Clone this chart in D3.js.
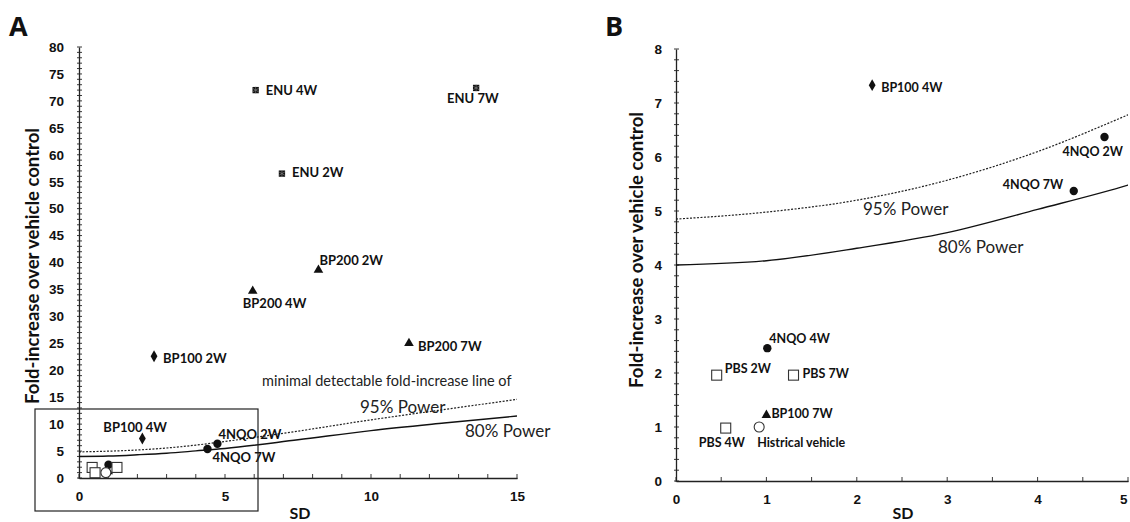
<!DOCTYPE html>
<html>
<head>
<meta charset="utf-8">
<script src="https://cdn.jsdelivr.net/npm/d3@7"></script>
<style>
  body { margin: 0; background: #fff; }
  svg { font-family: Lato, "Open Sans", sans-serif; }
  .tick text { font-weight: bold; font-size: 13.5px; fill: #111; }
  .lbl { font-weight: bold; fill: #111; }
  .note { font-size: 14.5px; fill: #222; }
  .pow { font-size: 17px; fill: #222; }
</style>
</head>
<body>
<svg width="1130" height="522"></svg>
<script>
// Points: name, SD, fold-increase over vehicle control, marker
var names  = ["ENU 4W", "ENU 7W", "ENU 2W", "BP200 2W", "BP200 4W", "BP200 7W",
              "BP100 2W", "BP100 4W", "BP100 7W", "4NQO 2W", "4NQO 7W", "4NQO 4W",
              "PBS 2W", "PBS 7W", "PBS 4W", "Histrical vehicle"];
var sdVals   = [6.05, 13.6, 6.95, 8.2, 5.95, 11.3, 2.57, 2.17, 1.0, 4.74, 4.4, 1.01, 0.45, 1.3, 0.55, 0.92];
var foldVals = [72.0, 72.4, 56.5, 38.6, 34.7, 25.0, 22.6, 7.33, 1.22, 6.37, 5.37, 2.46, 1.96, 1.96, 0.98, 1.0];
var markers  = ["enu", "enu", "enu", "tri", "tri", "tri", "dia", "dia", "tri", "dot", "dot", "dot",
                "sq", "sq", "sq", "ring"];

// minimal detectable fold-increase curves
var sdGrid  = [0, 1, 2, 3, 4, 5, 7.5, 10, 12.5, 15];
var power95 = [4.85, 4.98, 5.2, 5.57, 6.1, 6.78, 8.7, 10.8, 12.7, 14.6];
var power80 = [4.0, 4.08, 4.31, 4.6, 5.03, 5.48, 7.1, 8.8, 10.2, 11.5];

var xTicksA = [0, 5, 10, 15];
var yTicksA = d3.range(0, 81, 5);
var xTicksB = [0, 1, 2, 3, 4, 5];
var yTicksB = [0, 1, 2, 3, 4, 5, 6, 7, 8];

// label placement, dx/dy from the marker
var labelsA = {
  "ENU 4W": [10, 0], "ENU 7W": [-29, 11], "ENU 2W": [10, -1], "BP200 2W": [1, -10],
  "BP200 4W": [-10, 12], "BP200 7W": [9, 3], "BP100 2W": [9, 2], "BP100 4W": [-39, -11],
  "4NQO 2W": [1, -9], "4NQO 7W": [5, 8]
};
var labelsB = {
  "BP100 4W": [9, 2], "4NQO 2W": [-42, 15], "4NQO 7W": [-71, -6], "4NQO 4W": [2, -10],
  "PBS 2W": [8, -7], "PBS 7W": [9, -2], "BP100 7W": [5, -1], "PBS 4W": [-27, 15],
  "Histrical vehicle": [-2, 16]
};

var svg = d3.select("svg");
var points = names.map(function(n, i) {
  return { name: n, sd: sdVals[i], fold: foldVals[i], m: markers[i] };
});

function drawMarker(g, d) {
  if (d.m == "enu") {
    g.append("path").attr("d", d3.symbol(d3.symbolSquare, 40)()).attr("fill", "#111");
    g.append("path").attr("d", d3.symbol(d3.symbolAsterisk, 34)()).attr("stroke", "#888").attr("stroke-width", 0.6).attr("fill", "none");
  } else if (d.m == "tri") {
    g.append("path").attr("d", d3.symbol(d3.symbolTriangle, 40)()).attr("fill", "#111");
  } else if (d.m == "dia") {
    g.append("path").attr("d", d3.symbol(d3.symbolDiamond, 40)()).attr("fill", "#111");
  } else if (d.m == "dot") {
    g.append("circle").attr("r", 4.2).attr("fill", "#111");
  } else if (d.m == "sq") {
    g.append("rect").attr("x", -5).attr("y", -5).attr("width", 10).attr("height", 10)
      .attr("fill", "#fff").attr("stroke", "#333").attr("stroke-width", 1.1);
  } else {
    g.append("circle").attr("r", 5).attr("fill", "#fff").attr("stroke", "#333").attr("stroke-width", 1.1);
  }
}

function panel(o) {
  var x = d3.scaleLinear().domain(o.xDomain).range([o.left, o.right]);
  var y = d3.scaleLinear().domain(o.yDomain).range([o.bottom, o.top]);
  var g = svg.append("g");

  // minor ticks
  var minorY = d3.range(o.yDomain[0], o.yDomain[1] + 1e-9, o.yMinor);
  g.append("g").selectAll("line").data(minorY).enter().append("line")
    .attr("x1", o.left - 2).attr("x2", o.left + 3)
    .attr("y1", function(d) { return y(d); }).attr("y2", function(d) { return y(d); })
    .attr("stroke", "#222").attr("stroke-width", 0.9);
  var minorX = d3.range(o.xDomain[0], o.xDomain[1] + 1e-9, o.xMinor);
  g.append("g").selectAll("line").data(minorX).enter().append("line")
    .attr("x1", function(d) { return x(d); }).attr("x2", function(d) { return x(d); })
    .attr("y1", o.bottom - 4).attr("y2", o.bottom + 1)
    .attr("stroke", "#222").attr("stroke-width", 0.9);

  var xAxis = g.append("g").attr("transform", "translate(0," + o.bottom + ")")
    .call(d3.axisBottom(x).tickValues(o.xTicks).tickSize(0).tickPadding(o.xPad).tickFormat(d3.format("d")));
  var yAxis = g.append("g").attr("transform", "translate(" + o.left + ",0)")
    .call(d3.axisLeft(y).tickValues(o.yTicks).tickSize(0).tickPadding(o.yPad).tickFormat(d3.format("d")));
  [xAxis, yAxis].forEach(function(a) {
    a.select(".domain").attr("stroke", "#222").attr("stroke-width", 1.3);
  });
  // keep the last x label inside the page
  xAxis.selectAll(".tick text").filter(function(d) { return x(d) > 1115; })
    .attr("text-anchor", "end").attr("dx", "-1");

  // power lines
  var clipId = "clip" + o.id;
  svg.append("clipPath").attr("id", clipId).append("rect")
    .attr("x", o.left).attr("y", o.top).attr("width", o.right - o.left).attr("height", o.bottom - o.top);
  var line = d3.line().curve(d3.curveMonotoneX)
    .x(function(d) { return x(d[0]); }).y(function(d) { return y(d[1]); });
  g.append("path").datum(d3.zip(sdGrid, power95)).attr("clip-path", "url(#" + clipId + ")")
    .attr("d", line).attr("fill", "none").attr("stroke", "#222").attr("stroke-width", 1.2)
    .attr("stroke-dasharray", "2,1.5");
  g.append("path").datum(d3.zip(sdGrid, power80)).attr("clip-path", "url(#" + clipId + ")")
    .attr("d", line).attr("fill", "none").attr("stroke", "#111").attr("stroke-width", 1.4);

  // markers
  var pts = points.filter(function(d) {
    return d.sd <= o.xDomain[1] && d.fold <= o.yDomain[1];
  });
  pts.forEach(function(d) {
    var m = g.append("g").attr("transform", "translate(" + x(d.sd) + "," + y(d.fold) + ")");
    drawMarker(m, d);
    var off = o.labels[d.name];
    if (off) {
      g.append("text").attr("class", "lbl")
        .attr("x", x(d.sd) + off[0]).attr("y", y(d.fold) + off[1])
        .attr("dy", "0.35em").style("font-size", o.lblSize + "px").text(d.name);
    }
  });

  // titles
  g.append("text").attr("transform", "translate(" + o.yTitleX + "," + o.yTitleY + ") rotate(-90)")
    .attr("text-anchor", "middle").attr("dy", "0.35em")
    .style("font-weight", "bold").style("font-size", "18.5px").style("fill", "#111")
    .text("Fold-increase over vehicle control");
  g.append("text").attr("x", o.xTitleX).attr("y", 513).attr("text-anchor", "middle")
    .attr("dy", "0.35em").style("font-weight", "bold").style("font-size", "16px").style("fill", "#111")
    .text("SD");
  g.append("text").attr("x", o.letterX).attr("y", 36)
    .style("font-weight", "bold").style("font-size", "27px").style("fill", "#111")
    .style("font-family", "'Open Sans', sans-serif").text(o.letter);

  return { g: g, x: x, y: y };
}

var A = panel({
  id: "A", left: 79, right: 517, top: 47, bottom: 478,
  xDomain: [0, 15], yDomain: [0, 80], xTicks: xTicksA, yTicks: yTicksA,
  xMinor: 1, yMinor: 1, xPad: 13, yPad: 15, labels: labelsA, lblSize: 13,
  yTitleX: 33, yTitleY: 266, xTitleX: 300, letterX: 9, letter: "A"
});

// zoom box around the low-value corner
A.g.append("rect").attr("x", 35).attr("y", 409).attr("width", 223).attr("height", 102)
  .attr("fill", "none").attr("stroke", "#222").attr("stroke-width", 1.2);

A.g.append("text").attr("class", "note").attr("x", 262).attr("y", 381).attr("dy", "0.35em")
  .text("minimal detectable fold-increase line of");
A.g.append("text").attr("class", "pow").attr("x", 360).attr("y", 407).attr("dy", "0.35em")
  .text("95% Power");
A.g.append("text").attr("class", "pow").attr("x", 465).attr("y", 431).attr("dy", "0.35em")
  .text("80% Power");

var B = panel({
  id: "B", left: 676, right: 1128, top: 49, bottom: 481,
  xDomain: [0, 5], yDomain: [0, 8], xTicks: xTicksB, yTicks: yTicksB,
  xMinor: 0.5, yMinor: 0.2, xPad: 13, yPad: 14, labels: labelsB, lblSize: 12.5,
  yTitleX: 637, yTitleY: 250, xTitleX: 903, letterX: 605, letter: "B"
});

B.g.append("text").attr("class", "pow").attr("x", 863).attr("y", 209).attr("dy", "0.35em")
  .text("95% Power");
B.g.append("text").attr("class", "pow").attr("x", 938).attr("y", 247).attr("dy", "0.35em")
  .text("80% Power");
</script>
</body>
</html>
